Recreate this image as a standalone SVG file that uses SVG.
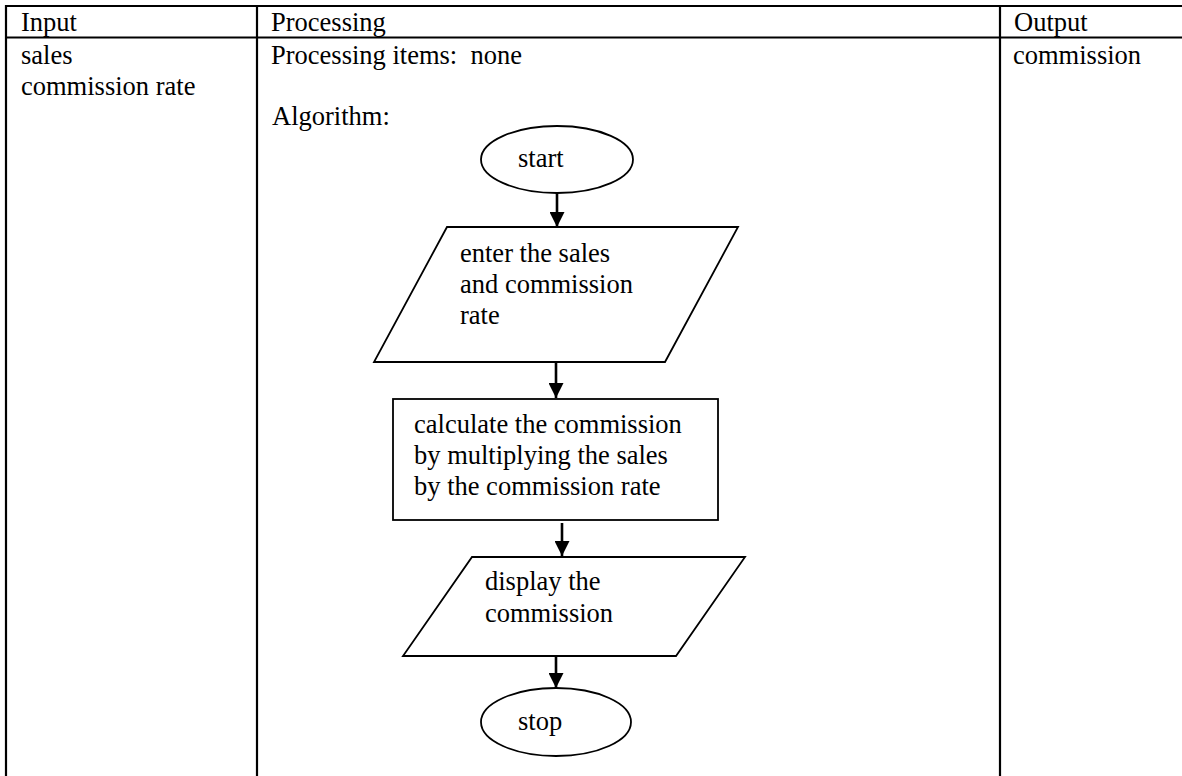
<svg xmlns="http://www.w3.org/2000/svg" width="1182" height="776" viewBox="0 0 1182 776">
  <style>
    text { font-family: "Liberation Serif", Tinos, "Times New Roman", Times, "DejaVu Serif", serif; font-size: 26.5px; fill: #000; white-space: pre; }
    .grid { stroke: #000; stroke-width: 2.2; fill: none; }
    .shape { stroke: #000; stroke-width: 1.8; fill: #fff; }
    .flow { stroke: #000; stroke-width: 2.6; fill: none; }
  </style>
  <defs>
    <marker id="arrow" viewBox="0 0 15 15" refX="15" refY="7.5" markerWidth="15" markerHeight="15" markerUnits="userSpaceOnUse" orient="auto">
      <path d="M0,0 L15,7.5 L0,15 Z" fill="#000"/>
    </marker>
  </defs>

  <!-- IPO table grid -->
  <g id="table">
    <line class="grid" x1="6" y1="6" x2="1182" y2="6"/>
    <line class="grid" x1="6" y1="37.5" x2="1182" y2="37.5"/>
    <line class="grid" x1="6" y1="5" x2="6" y2="776"/>
    <line class="grid" x1="257" y1="6" x2="257" y2="776"/>
    <line class="grid" x1="1000" y1="6" x2="1000" y2="776"/>
    <text x="21" y="31">Input</text>
    <text x="271" y="31">Processing</text>
    <text x="1014" y="31">Output</text>
    <text x="21" y="64">sales</text>
    <text x="21" y="95">commission rate</text>
    <text x="271" y="64">Processing items:  none</text>
    <text x="1013" y="64">commission</text>
    <text x="272" y="125">Algorithm:</text>
  </g>

  <!-- flowchart connectors -->
  <g id="connectors">
    <line class="flow" x1="557" y1="193" x2="557" y2="227" marker-end="url(#arrow)"/>
    <line class="flow" x1="556" y1="362" x2="556" y2="398" marker-end="url(#arrow)"/>
    <line class="flow" x1="562" y1="523" x2="562" y2="556" marker-end="url(#arrow)"/>
    <line class="flow" x1="556" y1="656" x2="556" y2="688" marker-end="url(#arrow)"/>
  </g>

  <g id="start">
    <ellipse class="shape" cx="557" cy="159.5" rx="76" ry="33.5"/>
    <text x="518" y="167">start</text>
  </g>

  <g id="input">
    <polygon class="shape" points="447,227 738,227 665,362 374,362"/>
    <text x="460" y="262">enter the sales</text>
    <text x="460" y="293">and commission</text>
    <text x="460" y="324">rate</text>
  </g>

  <g id="calculate">
    <rect class="shape" x="393" y="399" width="325" height="121"/>
    <text x="414" y="433">calculate the commission</text>
    <text x="414" y="464">by multiplying the sales</text>
    <text x="414" y="495">by the commission rate</text>
  </g>

  <g id="output">
    <polygon class="shape" points="472,557 745,557 676,656 403,656"/>
    <text x="485" y="590">display the</text>
    <text x="485" y="622">commission</text>
  </g>

  <g id="stop">
    <ellipse class="shape" cx="556" cy="722" rx="75" ry="34"/>
    <text x="518" y="730">stop</text>
  </g>
</svg>
